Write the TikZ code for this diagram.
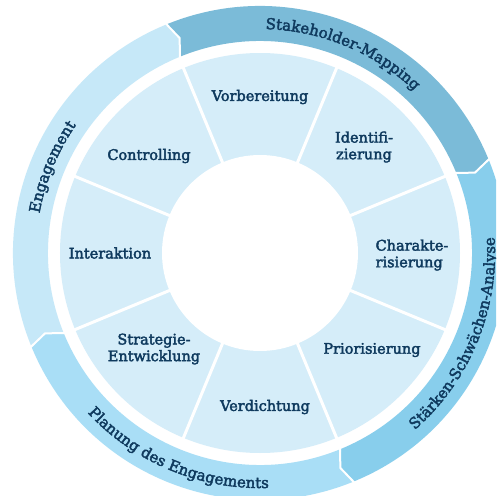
\documentclass[tikz,border=0pt]{standalone}
\usepackage{fontspec}
\setmainfont{DejaVu Serif}[FakeBold=2.6]
\usetikzlibrary{decorations.text}
\definecolor{ringA}{HTML}{7BBBD8}
\definecolor{ringB}{HTML}{88CEEC}
\definecolor{ringC}{HTML}{A9DEF6}
\definecolor{ringD}{HTML}{C6E8F8}
\definecolor{wheelc}{HTML}{D5EDF9}
\definecolor{navy}{HTML}{0F3A5E}
\newcommand\outerfont{\fontsize{15}{16}\selectfont}
\newcommand\ringseg[3]{%
  \fill[#3] (#1:212pt) -- ({#1-2}:229.5pt) -- (#1:247pt)
    arc[start angle=#1, end angle=#2, radius=247pt]
    -- ({#2-2}:229.5pt) -- (#2:212pt)
    arc[start angle=#2, end angle=#1, radius=212pt] -- cycle;}
\begin{document}
\begin{tikzpicture}[x=1pt,y=1pt,
  lab/.style={text=navy, font=\fontsize{14.5}{16.7}\selectfont, align=center, inner sep=0pt},
  sep/.style={white, line width=3pt},
  gapline/.style={white, line width=2pt, line join=miter},
  arclabel/.style={decorate, decoration={text along path, text align=center, text color=navy}}]
\useasboundingbox (-260pt,-243pt) rectangle (236pt,253pt);
\clip (-260pt,-243pt) rectangle (236pt,253pt);
\fill[white] (-260pt,-243pt) rectangle (236pt,253pt);
% outer ring
\ringseg{112.5}{22.5}{ringA}
\ringseg{22.5}{-67.5}{ringB}
\ringseg{-67.5}{-157.5}{ringC}
\ringseg{202.5}{112.5}{ringD}
\foreach \b in {112.5,22.5,-67.5,-157.5}
  \draw[gapline] (\b:209pt) -- ({\b-2}:229.5pt) -- (\b:250pt);
% wheel
\fill[wheelc] (0,0) circle[radius=200pt];
\foreach \a in {22.5,67.5,...,337.5}
  \draw[sep] (\a:95pt) -- (\a:202pt);
\fill[white] (0,0) circle[radius=98pt];
% labels
\node[lab] (vor) at (0,156) {Vorbereitung};
\node[lab] (ide) at (104,106) {Identifi-\\zierung};
\node[lab, align=left] (cha) at (152,-2) {Charakte-\\risierung};
\node[lab] (pri) at (112,-97) {Priorisierung};
\node[lab] (ver) at (5,-154) {Verdichtung};
\node[lab] (str) at (-106,-96) {Strategie-\\Entwicklung};
\node[lab] (int) at (-150,0) {Interaktion};
\node[lab] (con) at (-111,97) {Controlling};
% outer labels
\path[arclabel, decoration={text={|\outerfont|Stakeholder-Mapping}}]
  (112.5:224pt) arc[start angle=112.5, end angle=22.5, radius=224pt];
\path[arclabel, decoration={text={|\outerfont|Stärken-Schwächen-Analyse}}]
  (-67.5:235pt) arc[start angle=-67.5, end angle=22.5, radius=235pt];
\path[arclabel, decoration={text={|\outerfont|Planung des Engagements}}]
  (-157.5:235pt) arc[start angle=-157.5, end angle=-67.5, radius=235pt];
\path[arclabel, decoration={text={|\outerfont|Engagement}}]
  (202.5:224pt) arc[start angle=202.5, end angle=112.5, radius=224pt];
\end{tikzpicture}
\end{document}
